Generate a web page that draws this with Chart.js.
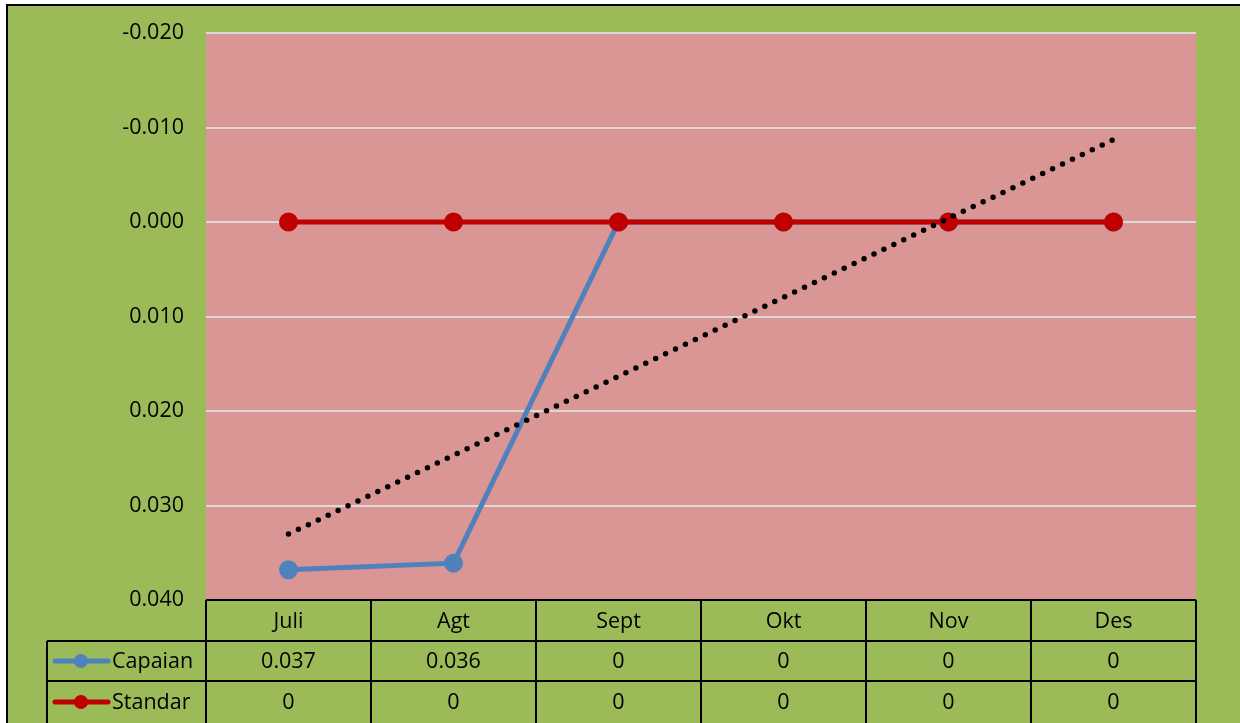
<!DOCTYPE html>
<html>
<head>
<meta charset="utf-8">
<script src="https://cdn.jsdelivr.net/npm/chart.js@4.4.1/dist/chart.umd.min.js"></script>
<style>
html,body{margin:0;padding:0;background:#fff;}
#wrap{width:1240px;height:723px;position:relative;}
</style>
</head>
<body>
<div id="wrap"><canvas id="c" width="1240" height="723"></canvas></div>
<script>
const categories = ['Juli', 'Agt', 'Sept', 'Okt', 'Nov', 'Des'];
const capaian = [0.0368, 0.0361, 0, 0, 0, 0];
const standar = [0, 0, 0, 0, 0, 0];
const capaianLabels = ['0.037', '0.036', '0', '0', '0', '0'];
const standarLabels = ['0', '0', '0', '0', '0', '0'];
const yMin = -0.02, yMax = 0.04, yStep = 0.01;

// linear trendline of Capaian (least squares)
function linearTrend(vals) {
  const n = vals.length;
  let sx = 0, sy = 0, sxy = 0, sxx = 0;
  vals.forEach((v, i) => { const x = i + 1; sx += x; sy += v; sxy += x * v; sxx += x * x; });
  const b = (n * sxy - sx * sy) / (n * sxx - sx * sx);
  const a = (sy - b * sx) / n;
  return vals.map((v, i) => a + b * (i + 1));
}
const trend = linearTrend(capaian);

const FONT = "'Open Sans', 'Liberation Sans', sans-serif";
const FSIZE = 21.5;

const bgPlugin = {
  id: 'bg',
  beforeDraw(chart) {
    const ctx = chart.ctx;
    ctx.save();
    ctx.fillStyle = '#ffffff';
    ctx.fillRect(0, 0, chart.width, chart.height);
    ctx.fillStyle = '#9BBB59';
    ctx.fillRect(7, 5, chart.width - 7, chart.height - 5);
    ctx.strokeStyle = '#000';
    ctx.lineWidth = 2;
    ctx.beginPath();
    ctx.moveTo(7, chart.height);
    ctx.lineTo(7, 5);
    ctx.lineTo(chart.width, 5);
    ctx.stroke();
    const a = chart.chartArea;
    ctx.fillStyle = '#D99694';
    ctx.fillRect(a.left, a.top, a.right - a.left, a.bottom - a.top);
    ctx.restore();
  }
};

const tablePlugin = {
  id: 'dataTable',
  afterDraw(chart) {
    const ctx = chart.ctx;
    const a = chart.chartArea;
    const xs = chart.scales.x;
    const n = categories.length;
    const colW = (a.right - a.left) / n;
    const rowTop = a.bottom;
    const r1 = rowTop + 41, r2 = r1 + 40, r3 = r2 + 42;
    const legLeft = 47;
    ctx.save();
    ctx.strokeStyle = '#000';
    ctx.lineWidth = 2;
    ctx.beginPath();
    ctx.moveTo(a.left, rowTop); ctx.lineTo(a.right, rowTop);
    ctx.moveTo(legLeft, r1); ctx.lineTo(a.right, r1);
    ctx.moveTo(legLeft, r2); ctx.lineTo(a.right, r2);
    for (let k = 0; k <= n; k++) {
      const x = a.left + k * colW;
      ctx.moveTo(x, rowTop); ctx.lineTo(x, r3);
    }
    ctx.moveTo(legLeft, r1); ctx.lineTo(legLeft, r3);
    ctx.stroke();

    ctx.fillStyle = '#000';
    ctx.font = FSIZE + "px " + FONT;
    ctx.textAlign = 'center';
    ctx.textBaseline = 'middle';
    categories.forEach((c, i) => {
      const x = xs.getPixelForValue(i);
      ctx.fillText(c, x, (rowTop + r1) / 2 + 1);
      ctx.fillText(capaianLabels[i], x, (r1 + r2) / 2 + 1);
      ctx.fillText(standarLabels[i], x, (r2 + r3) / 2 + 1);
    });

    const rows = [
      { name: 'Capaian', color: '#4F81BD', y: (r1 + r2) / 2 },
      { name: 'Standar', color: '#C00000', y: (r2 + r3) / 2 }
    ];
    rows.forEach(r => {
      ctx.strokeStyle = r.color;
      ctx.lineWidth = 5;
      ctx.lineCap = 'round';
      ctx.beginPath();
      ctx.moveTo(55, r.y); ctx.lineTo(108, r.y);
      ctx.stroke();
      ctx.fillStyle = r.color;
      ctx.beginPath();
      ctx.arc(81, r.y, 7, 0, Math.PI * 2);
      ctx.fill();
      ctx.fillStyle = '#000';
      ctx.textAlign = 'left';
      ctx.fillText(r.name, 112, r.y + 1);
    });
    ctx.restore();
  }
};

new Chart(document.getElementById('c'), {
  type: 'line',
  data: {
    labels: categories,
    datasets: [
      {
        label: 'Capaian',
        data: capaian,
        borderColor: '#4F81BD',
        backgroundColor: '#4F81BD',
        borderWidth: 5,
        pointRadius: 7,
        pointHoverRadius: 7,
        tension: 0,
        order: 2
      },
      {
        label: 'Standar',
        data: standar,
        borderColor: '#C00000',
        backgroundColor: '#C00000',
        borderWidth: 5,
        pointRadius: 7,
        pointHoverRadius: 7,
        tension: 0,
        order: 1
      },
      {
        label: 'Linear (Capaian)',
        data: trend,
        borderColor: '#000000',
        borderWidth: 5.5,
        borderDash: [0, 11],
        borderCapStyle: 'round',
        pointRadius: 0,
        tension: 0,
        order: 0
      }
    ]
  },
  options: {
    responsive: false,
    animation: false,
    events: [],
    layout: { padding: { left: 0, top: 33, right: 44, bottom: 123 } },
    plugins: { legend: { display: false }, title: { display: false }, tooltip: { enabled: false } },
    scales: {
      x: {
        display: false,
        offset: true
      },
      y: {
        reverse: true,
        min: yMin,
        max: yMax,
        afterFit(scale) { scale.width = 206; scale.paddingTop = 0; scale.paddingBottom = 0; },
        border: { display: false },
        grid: { color: '#D9D9D9', lineWidth: 2, drawTicks: false },
        ticks: {
          stepSize: yStep,
          padding: 22,
          color: '#000',
          font: { family: FONT, size: FSIZE },
          callback(v) { const x = Math.abs(v) < 1e-9 ? 0 : v; return x.toFixed(3); }
        }
      }
    }
  },
  plugins: [bgPlugin, tablePlugin]
});
</script>
</body>
</html>
